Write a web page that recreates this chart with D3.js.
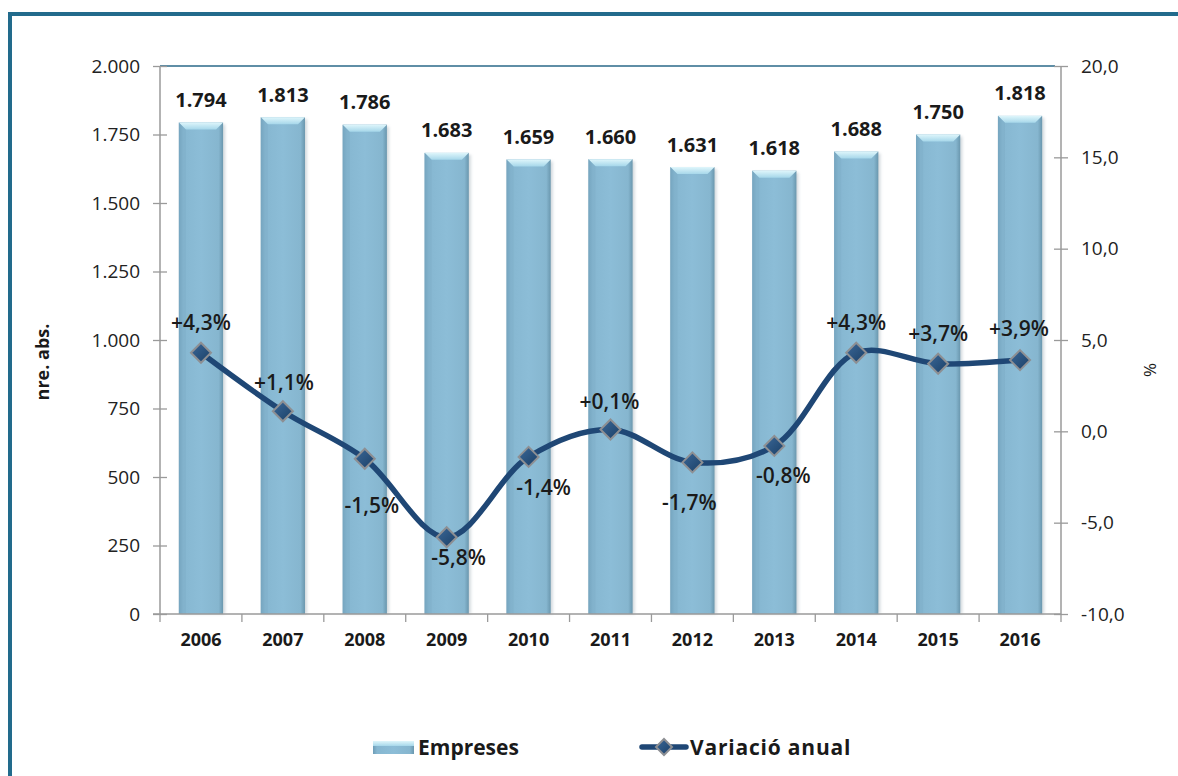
<!DOCTYPE html>
<html>
<head>
<meta charset="utf-8">
<script src="https://cdn.jsdelivr.net/npm/d3@7"></script>
<style>
  html, body { margin: 0; padding: 0; background: #fff; }
  svg { display: block; font-family: "Open Sans", Lato, sans-serif; }
</style>
</head>
<body>
<svg id="chart" width="1178" height="776"></svg>
<script>
// Data
const years = ["2006","2007","2008","2009","2010","2011","2012","2013","2014","2015","2016"];
const empreses = [1794, 1813, 1786, 1683, 1659, 1660, 1631, 1618, 1688, 1750, 1818];
const variacio = [4.3, 1.1, -1.5, -5.8, -1.4, 0.1, -1.7, -0.8, 4.3, 3.7, 3.9];
const leftTicks = [0, 250, 500, 750, 1000, 1250, 1500, 1750, 2000];
const rightTicks = [-10, -5, 0, 5, 10, 15, 20];

// Label placement nudges for the percentage labels (dx, dy from the marker)
const pctNudge = [[0,-31],[1,-29],[7,46],[12,20],[15,30],[-1,-29],[-3,40],[9,29],[0,-31],[0,-31],[-1,-32]];

const loc = d3.formatLocale({ decimal: ",", thousands: ".", grouping: [3], currency: ["", ""], minus: "-" });
const fmtInt = loc.format(",d");
const fmtDec = loc.format(".1f");
const fmtPct = v => (v > 0 ? "+" : "") + loc.format(".1f")(v) + "%";

const FONT = "'Open Sans', Lato, sans-serif";
const INK = "#1a1a1a";

const svg = d3.select("#chart");
const L = 160, R = 1061, T = 66, B = 614;

// Frame (left and top edges)
svg.append("rect").attr("x", 8).attr("y", 12).attr("width", 1170).attr("height", 4).attr("fill", "#226b8c");
svg.append("rect").attr("x", 8).attr("y", 12).attr("width", 4).attr("height", 764).attr("fill", "#226b8c");

const x = d3.scaleBand().domain(years).range([L, R]).padding(0);
const yL = d3.scaleLinear().domain([0, 2000]).range([B, T]);
const yR = d3.scaleLinear().domain([-10, 20]).range([B, T]);
const barW = x.bandwidth() * 0.54;

const defs = svg.append("defs");
const gBody = defs.append("linearGradient").attr("id", "barBody").attr("x1", 0).attr("x2", 1).attr("y1", 0).attr("y2", 0);
gBody.append("stop").attr("offset", "0").attr("stop-color", "#6e9db7");
gBody.append("stop").attr("offset", "0.1").attr("stop-color", "#86b7d1");
gBody.append("stop").attr("offset", "0.5").attr("stop-color", "#8cbdd7");
gBody.append("stop").attr("offset", "0.9").attr("stop-color", "#86b6cf");
gBody.append("stop").attr("offset", "1").attr("stop-color", "#6a97ae");
const gTop = defs.append("linearGradient").attr("id", "barTop").attr("x1", 0).attr("x2", 0).attr("y1", 0).attr("y2", 1);
gTop.append("stop").attr("offset", "0").attr("stop-color", "#dff6fb");
gTop.append("stop").attr("offset", "1").attr("stop-color", "#a6d7ea");
const gMark = defs.append("linearGradient").attr("id", "mark").attr("x1", 0).attr("x2", 1).attr("y1", 0).attr("y2", 1);
gMark.append("stop").attr("offset", "0").attr("stop-color", "#3b6898");
gMark.append("stop").attr("offset", "1").attr("stop-color", "#1a3f66");
const blur = defs.append("filter").attr("id", "soft").attr("x", "-20%").attr("y", "-20%").attr("width", "140%").attr("height", "140%");
blur.append("feGaussianBlur").attr("stdDeviation", 1.6);

// Top border of the plot area
svg.append("line").attr("x1", L).attr("x2", R - 6).attr("y1", T).attr("y2", T)
  .attr("stroke", "#2a6889").attr("stroke-width", 1.5);

// Bars
const bars = svg.append("g");
years.forEach((yr, i) => {
  const cx = x(yr) + x.bandwidth() / 2;
  const x0 = cx - barW / 2;
  const yt = yL(empreses[i]);
  const h = B - yt;
  bars.append("rect").attr("x", x0 + 2).attr("y", yt + 2).attr("width", barW).attr("height", h - 2)
    .attr("fill", "#9aa9b2").attr("opacity", 0.45).attr("filter", "url(#soft)");
  bars.append("rect").attr("x", x0).attr("y", yt).attr("width", barW).attr("height", h)
    .attr("fill", "url(#barBody)");
  const bv = 7;
  bars.append("path")
    .attr("d", `M${x0},${yt}L${x0 + barW},${yt}L${x0 + barW - bv},${yt + bv}L${x0 + bv},${yt + bv}Z`)
    .attr("fill", "url(#barTop)");
  bars.append("path")
    .attr("d", `M${x0},${yt}L${x0 + bv},${yt + bv}L${x0 + bv},${B}L${x0},${B}Z`)
    .attr("fill", "#7eadc7").attr("opacity", 0.5);
  bars.append("text").attr("x", cx).attr("y", yt - 23).attr("text-anchor", "middle")
    .attr("dominant-baseline", "central")
    .attr("font-size", 20).attr("font-weight", 700).attr("fill", INK)
    .text(fmtInt(empreses[i]));
});

// Left axis
const axL = svg.append("g").attr("transform", `translate(${L},0)`)
  .call(d3.axisLeft(yL).tickValues(leftTicks).tickFormat(fmtInt).tickSize(7).tickPadding(13));
axL.select(".domain").attr("stroke", "#9a9a9a").attr("stroke-width", 1.5).attr("d", `M0,${T}V${B}`);
axL.selectAll(".tick line").attr("stroke", "#9a9a9a").attr("stroke-width", 1.3).attr("x1", 7);
axL.selectAll(".tick text").attr("font-size", 19).attr("fill", "#222").attr("font-family", FONT);

// Right axis
const axR = svg.append("g").attr("transform", `translate(${R},0)`)
  .call(d3.axisRight(yR).tickValues(rightTicks).tickFormat(fmtDec).tickSize(7).tickPadding(13));
axR.select(".domain").attr("stroke", "#9a9a9a").attr("stroke-width", 1.5).attr("d", `M0,${T}V${B}`);
axR.selectAll(".tick line").attr("stroke", "#9a9a9a").attr("stroke-width", 1.3).attr("x1", -7);
axR.selectAll(".tick text").attr("font-size", 19).attr("fill", "#222").attr("font-family", FONT);

// Bottom axis: labels at category centres, ticks at category boundaries
const axB = svg.append("g").attr("transform", `translate(0,${B})`)
  .call(d3.axisBottom(x).tickSize(0).tickPadding(19));
axB.select(".domain").attr("d", `M${L - 7},0H${R}`).attr("stroke", "#9a9a9a").attr("stroke-width", 1.5);
axB.selectAll(".tick text").attr("font-size", 18).attr("font-weight", 700).attr("fill", INK)
  .attr("font-family", FONT);
const bounds = years.map(y => x(y)).concat([x(years[years.length - 1]) + x.bandwidth()]);
axB.selectAll("line.bound").data(bounds).join("line").attr("class", "bound")
  .attr("x1", d => d).attr("x2", d => d).attr("y1", 0).attr("y2", 8)
  .attr("stroke", "#9a9a9a").attr("stroke-width", 1.3);

// Axis titles
svg.append("text").attr("transform", "translate(42,362) rotate(-90)").attr("text-anchor", "middle")
  .attr("dominant-baseline", "central")
  .attr("font-size", 18).attr("font-weight", 700).attr("fill", INK).text("nre. abs.");
svg.append("text").attr("transform", "translate(1150,370) rotate(90)").attr("text-anchor", "middle")
  .attr("dominant-baseline", "central")
  .attr("font-size", 17).attr("fill", INK).text("%");

// Line
const pts = years.map((yr, i) => [x(yr) + x.bandwidth() / 2, yR(variacio[i])]);
svg.append("path").attr("d", d3.line().curve(d3.curveCatmullRom.alpha(0.5))(pts))
  .attr("fill", "none").attr("stroke", "#1f4775").attr("stroke-width", 5.5).attr("stroke-linecap", "round");

// Markers
const diamond = (cx, cy, r) => `M${cx},${cy - r}L${cx + r},${cy}L${cx},${cy + r}L${cx - r},${cy}Z`;
pts.forEach(([cx, cy]) => {
  svg.append("path").attr("d", diamond(cx, cy, 10)).attr("fill", "url(#mark)")
    .attr("stroke", "#8d8f93").attr("stroke-width", 2);
});

// Percentage labels
pts.forEach(([cx, cy], i) => {
  svg.append("text").attr("x", cx + pctNudge[i][0]).attr("y", cy + pctNudge[i][1])
    .attr("text-anchor", "middle").attr("dominant-baseline", "central")
    .attr("font-size", 21).attr("font-weight", 600).attr("fill", INK)
    .text(fmtPct(variacio[i]));
});

// Legend
const lg = svg.append("g");
lg.append("rect").attr("x", 373).attr("y", 741).attr("width", 41).attr("height", 13).attr("fill", "url(#barBody)");
lg.append("rect").attr("x", 373).attr("y", 741).attr("width", 41).attr("height", 5).attr("fill", "url(#barTop)");
lg.append("text").attr("x", 418).attr("y", 747).attr("dominant-baseline", "central")
  .attr("font-size", 21).attr("font-weight", 700).attr("fill", INK).text("Empreses");
lg.append("line").attr("x1", 642).attr("x2", 686).attr("y1", 747).attr("y2", 747)
  .attr("stroke", "#1f4775").attr("stroke-width", 5.5).attr("stroke-linecap", "round");
lg.append("path").attr("d", diamond(664, 747, 8)).attr("fill", "url(#mark)").attr("stroke", "#8d8f93").attr("stroke-width", 2);
lg.append("text").attr("x", 690).attr("y", 747).attr("dominant-baseline", "central")
  .attr("font-size", 21).attr("font-weight", 700).attr("letter-spacing", 0.8).attr("fill", INK).text("Variació anual");
</script>
</body>
</html>
